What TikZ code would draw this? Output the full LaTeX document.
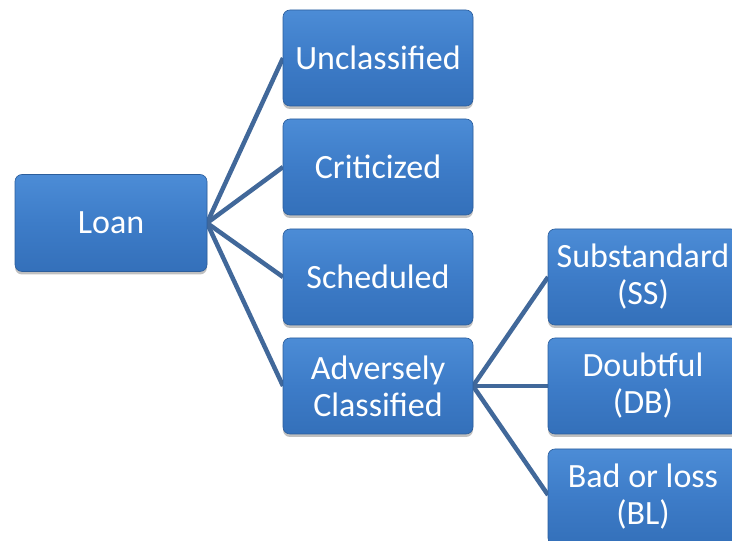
\documentclass[tikz,border=0pt]{standalone}
\usepackage{fontspec}
\setmainfont{Carlito}
\usetikzlibrary{shadows,positioning}
\definecolor{boxtop}{HTML}{4C8CD6}
\definecolor{boxmid}{HTML}{3D7CC8}
\definecolor{boxbot}{HTML}{3470BA}
\definecolor{boxedge}{HTML}{2C5E9C}
\definecolor{linkblue}{HTML}{41689A}
\tikzset{
  x=1pt, y=1pt,
  catbox/.style={
    rectangle, rounded corners=7pt, minimum width=190pt, minimum height=96pt,
    top color=boxtop, bottom color=boxbot, middle color=boxmid,
    draw=boxedge, line width=0.6pt,
    text=white, align=center,
    font=\fontsize{34}{37}\selectfont,
    drop shadow={shadow xshift=0pt, shadow yshift=-3pt, opacity=0.35, fill=black!70}
  },
  link/.style={draw=linkblue, line width=4.5pt}
}
\begin{document}
\begin{tikzpicture}
\useasboundingbox (0,0) rectangle (732,541);
\clip (0,0) rectangle (732,541);
\fill[white] (0,0) rectangle (732,541);

% connectors first, so the boxes sit on top of them
\coordinate (lr) at (207,318);
\coordinate (ar) at (473,155);
\draw[link] (lr) -- (283,483);
\draw[link] (lr) -- (283,374);
\draw[link] (lr) -- (283,264);
\draw[link] (lr) -- (283,155);
\draw[link] (ar) -- (548,264);
\draw[link] (ar) -- (548,155);
\draw[link] (ar) -- (548,46);

\node[catbox, minimum width=192pt, minimum height=97pt] (loan) at (111,318) {Loan};
\node[catbox] (uncl) at (378,483) {Unclassified};
\node[catbox] (crit) at (378,374) {Criticized};
\node[catbox] (sched) at (378,264) {Scheduled};
\node[catbox] (adv) at (378,155) {Adversely\\Classified};
\node[catbox] (ss) at (643,264) {Substandard\\(SS)};
\node[catbox] (db) at (643,155) {Doubtful\\(DB)};
\node[catbox] (bl) at (643,44) {Bad or loss\\(BL)};
\end{tikzpicture}
\end{document}
